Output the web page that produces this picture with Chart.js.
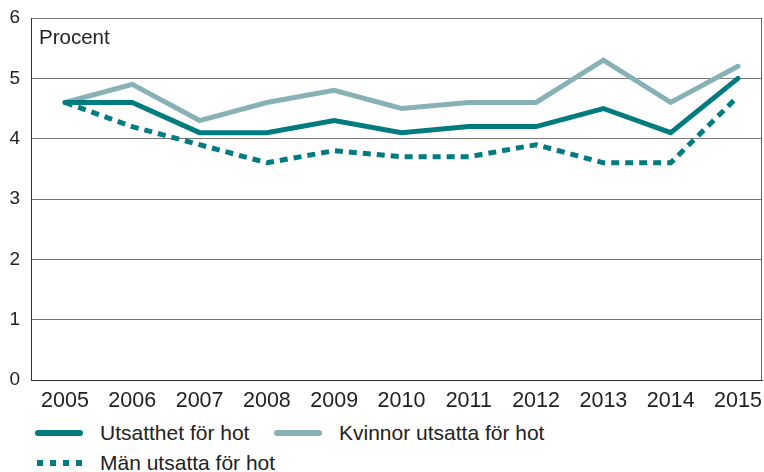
<!DOCTYPE html>
<html>
<head>
<meta charset="utf-8">
<script src="https://cdn.jsdelivr.net/npm/chart.js@4"></script>
<style>
  body { margin: 0; background: #fff; font-family: "Liberation Sans", Arial, sans-serif; }
  #wrap { position: absolute; left: 0; top: 0; width: 764px; height: 415px; }
  .leg { position: absolute; font-size: 21px; color: #222; line-height: 24px; white-space: nowrap; }
  .sw { position: absolute; height: 6px; }
</style>
</head>
<body>
<div id="wrap"><canvas id="hotChart"></canvas></div>
<div class="sw" style="left:35px; top:430px; width:48px; background:#007b80; border-radius:3px;"></div>
<div class="leg" style="left:100px; top:421px;">Utsatthet för hot</div>
<div class="sw" style="left:274px; top:430px; width:48px; background:#88b1b6; border-radius:3px;"></div>
<div class="leg" style="left:339px; top:421px;">Kvinnor utsatta för hot</div>
<div class="sw" style="left:37px; top:460px; width:45px; background:repeating-linear-gradient(90deg, #007b80 0 6px, transparent 6px 13px);"></div>
<div class="leg" style="left:100px; top:451px;">Män utsatta för hot</div>
<script>
const years = [2005, 2006, 2007, 2008, 2009, 2010, 2011, 2012, 2013, 2014, 2015];
const utsatthet = [4.6, 4.6, 4.1, 4.1, 4.3, 4.1, 4.2, 4.2, 4.5, 4.1, 5.0];
const kvinnor = [4.6, 4.9, 4.3, 4.6, 4.8, 4.5, 4.6, 4.6, 5.3, 4.6, 5.2];
const man = [4.6, 4.2, 3.9, 3.6, 3.8, 3.7, 3.7, 3.9, 3.6, 3.6, 4.7];
const yTicks = [0, 1, 2, 3, 4, 5, 6];

const pts = arr => arr.map((v, i) => ({ x: years[i], y: v }));

const frame = {
    id: "frame",
    afterDraw(chart) {
        const { ctx, chartArea: a } = chart;
        ctx.save();
        ctx.strokeStyle = "#666";
        ctx.lineWidth = 1;
        ctx.beginPath();
        ctx.moveTo(a.right - 0.5, a.top);
        ctx.lineTo(a.right - 0.5, a.bottom);
        ctx.stroke();
        ctx.fillStyle = "#222";
        ctx.font = "20.5px 'Liberation Sans', Arial, sans-serif";
        ctx.textBaseline = "middle";
        ctx.fillText("Procent", a.left + 8, a.top + 20);
        ctx.restore();
    }
};

document.addEventListener("DOMContentLoaded", () => {
    const family = "'Liberation Sans', Arial, sans-serif";
    new Chart(document.getElementById("hotChart"), {
        type: "line",
        data: {
            datasets: [
                {
                    label: "Män utsatta för hot",
                    data: pts(man),
                    borderColor: "#007b80",
                    borderWidth: 5,
                    borderDash: [8, 6],
                    borderCapStyle: "butt",
                    order: 0
                },
                {
                    label: "Utsatthet för hot",
                    data: pts(utsatthet),
                    borderColor: "#007b80",
                    borderWidth: 5,
                    borderCapStyle: "round",
                    order: 1
                },
                {
                    label: "Kvinnor utsatta för hot",
                    data: pts(kvinnor),
                    borderColor: "#88b1b6",
                    borderWidth: 5,
                    borderCapStyle: "round",
                    order: 2
                }
            ]
        },
        options: {
            responsive: true,
            maintainAspectRatio: false,
            animation: false,
            tension: 0,
            pointRadius: 0,
            layout: { padding: { top: 18, right: 2, left: 0, bottom: 0 } },
            plugins: { legend: { display: false }, tooltip: { enabled: false } },
            scales: {
                x: {
                    type: "linear",
                    min: 2004.495,
                    max: 2015.357,
                    grid: { display: false, drawTicks: false },
                    border: { color: "#333", width: 1 },
                    afterBuildTicks: s => { s.ticks = years.map(v => ({ value: v })); },
                    afterFit: s => { s.height = 35; s.paddingLeft = 0; s.paddingRight = 0; },
                    ticks: { color: "#222", font: { family, size: 21.5 }, padding: 8, maxRotation: 0, autoSkip: false,
                             callback: v => String(v) }
                },
                y: {
                    min: 0,
                    max: 6,
                    afterBuildTicks: s => { s.ticks = yTicks.map(v => ({ value: v })); },
                    afterFit: s => { s.width = 31; s.paddingTop = 0; s.paddingBottom = 0; },
                    grid: { color: "#777", lineWidth: 1, drawTicks: false },
                    border: { color: "#333", width: 1 },
                    ticks: { color: "#222", font: { family, size: 19 }, padding: 11 }
                }
            }
        },
        plugins: [frame]
    });
});
</script>
</body>
</html>
